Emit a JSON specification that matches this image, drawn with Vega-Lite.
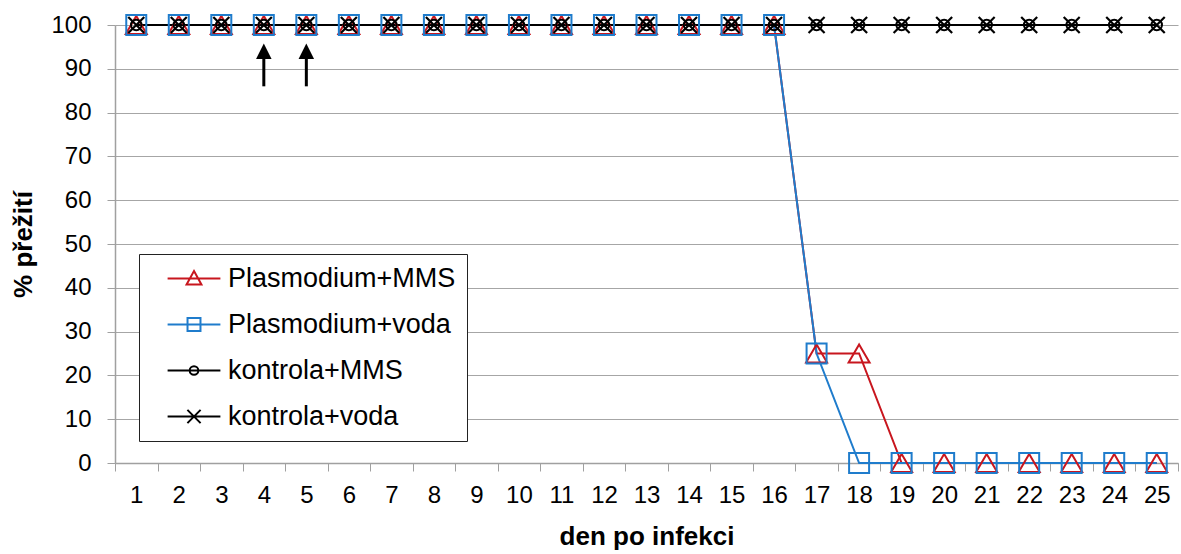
{
  "$schema": "https://vega.github.io/schema/vega-lite/v6.json",
  "width": 1063,
  "height": 438,
  "autosize": {"type": "none"},
  "padding": {"left": 115, "top": 25, "right": 3, "bottom": 91},
  "background": "white",
  "config": {
    "view": {"stroke": null},
    "font": "Liberation Sans",
    "axis": {"labelColor": "black", "titleColor": "black", "labelFont": "Liberation Sans", "titleFont": "Liberation Sans"},
    "legend": {"labelFont": "Liberation Sans"}
  },
  "datasets": {
    "surv": [
      {"day": 1, "series": "Plasmodium+MMS", "value": 100}, {"day": 2, "series": "Plasmodium+MMS", "value": 100}, {"day": 3, "series": "Plasmodium+MMS", "value": 100}, {"day": 4, "series": "Plasmodium+MMS", "value": 100}, {"day": 5, "series": "Plasmodium+MMS", "value": 100},
      {"day": 6, "series": "Plasmodium+MMS", "value": 100}, {"day": 7, "series": "Plasmodium+MMS", "value": 100}, {"day": 8, "series": "Plasmodium+MMS", "value": 100}, {"day": 9, "series": "Plasmodium+MMS", "value": 100}, {"day": 10, "series": "Plasmodium+MMS", "value": 100},
      {"day": 11, "series": "Plasmodium+MMS", "value": 100}, {"day": 12, "series": "Plasmodium+MMS", "value": 100}, {"day": 13, "series": "Plasmodium+MMS", "value": 100}, {"day": 14, "series": "Plasmodium+MMS", "value": 100}, {"day": 15, "series": "Plasmodium+MMS", "value": 100},
      {"day": 16, "series": "Plasmodium+MMS", "value": 100}, {"day": 17, "series": "Plasmodium+MMS", "value": 25}, {"day": 18, "series": "Plasmodium+MMS", "value": 25}, {"day": 19, "series": "Plasmodium+MMS", "value": 0}, {"day": 20, "series": "Plasmodium+MMS", "value": 0},
      {"day": 21, "series": "Plasmodium+MMS", "value": 0}, {"day": 22, "series": "Plasmodium+MMS", "value": 0}, {"day": 23, "series": "Plasmodium+MMS", "value": 0}, {"day": 24, "series": "Plasmodium+MMS", "value": 0}, {"day": 25, "series": "Plasmodium+MMS", "value": 0},
      {"day": 1, "series": "Plasmodium+voda", "value": 100}, {"day": 2, "series": "Plasmodium+voda", "value": 100}, {"day": 3, "series": "Plasmodium+voda", "value": 100}, {"day": 4, "series": "Plasmodium+voda", "value": 100}, {"day": 5, "series": "Plasmodium+voda", "value": 100},
      {"day": 6, "series": "Plasmodium+voda", "value": 100}, {"day": 7, "series": "Plasmodium+voda", "value": 100}, {"day": 8, "series": "Plasmodium+voda", "value": 100}, {"day": 9, "series": "Plasmodium+voda", "value": 100}, {"day": 10, "series": "Plasmodium+voda", "value": 100},
      {"day": 11, "series": "Plasmodium+voda", "value": 100}, {"day": 12, "series": "Plasmodium+voda", "value": 100}, {"day": 13, "series": "Plasmodium+voda", "value": 100}, {"day": 14, "series": "Plasmodium+voda", "value": 100}, {"day": 15, "series": "Plasmodium+voda", "value": 100},
      {"day": 16, "series": "Plasmodium+voda", "value": 100}, {"day": 17, "series": "Plasmodium+voda", "value": 25}, {"day": 18, "series": "Plasmodium+voda", "value": 0}, {"day": 19, "series": "Plasmodium+voda", "value": 0}, {"day": 20, "series": "Plasmodium+voda", "value": 0},
      {"day": 21, "series": "Plasmodium+voda", "value": 0}, {"day": 22, "series": "Plasmodium+voda", "value": 0}, {"day": 23, "series": "Plasmodium+voda", "value": 0}, {"day": 24, "series": "Plasmodium+voda", "value": 0}, {"day": 25, "series": "Plasmodium+voda", "value": 0},
      {"day": 1, "series": "kontrola+MMS", "value": 100}, {"day": 2, "series": "kontrola+MMS", "value": 100}, {"day": 3, "series": "kontrola+MMS", "value": 100}, {"day": 4, "series": "kontrola+MMS", "value": 100}, {"day": 5, "series": "kontrola+MMS", "value": 100},
      {"day": 6, "series": "kontrola+MMS", "value": 100}, {"day": 7, "series": "kontrola+MMS", "value": 100}, {"day": 8, "series": "kontrola+MMS", "value": 100}, {"day": 9, "series": "kontrola+MMS", "value": 100}, {"day": 10, "series": "kontrola+MMS", "value": 100},
      {"day": 11, "series": "kontrola+MMS", "value": 100}, {"day": 12, "series": "kontrola+MMS", "value": 100}, {"day": 13, "series": "kontrola+MMS", "value": 100}, {"day": 14, "series": "kontrola+MMS", "value": 100}, {"day": 15, "series": "kontrola+MMS", "value": 100},
      {"day": 16, "series": "kontrola+MMS", "value": 100}, {"day": 17, "series": "kontrola+MMS", "value": 100}, {"day": 18, "series": "kontrola+MMS", "value": 100}, {"day": 19, "series": "kontrola+MMS", "value": 100}, {"day": 20, "series": "kontrola+MMS", "value": 100},
      {"day": 21, "series": "kontrola+MMS", "value": 100}, {"day": 22, "series": "kontrola+MMS", "value": 100}, {"day": 23, "series": "kontrola+MMS", "value": 100}, {"day": 24, "series": "kontrola+MMS", "value": 100}, {"day": 25, "series": "kontrola+MMS", "value": 100},
      {"day": 1, "series": "kontrola+voda", "value": 100}, {"day": 2, "series": "kontrola+voda", "value": 100}, {"day": 3, "series": "kontrola+voda", "value": 100}, {"day": 4, "series": "kontrola+voda", "value": 100}, {"day": 5, "series": "kontrola+voda", "value": 100},
      {"day": 6, "series": "kontrola+voda", "value": 100}, {"day": 7, "series": "kontrola+voda", "value": 100}, {"day": 8, "series": "kontrola+voda", "value": 100}, {"day": 9, "series": "kontrola+voda", "value": 100}, {"day": 10, "series": "kontrola+voda", "value": 100},
      {"day": 11, "series": "kontrola+voda", "value": 100}, {"day": 12, "series": "kontrola+voda", "value": 100}, {"day": 13, "series": "kontrola+voda", "value": 100}, {"day": 14, "series": "kontrola+voda", "value": 100}, {"day": 15, "series": "kontrola+voda", "value": 100},
      {"day": 16, "series": "kontrola+voda", "value": 100}, {"day": 17, "series": "kontrola+voda", "value": 100}, {"day": 18, "series": "kontrola+voda", "value": 100}, {"day": 19, "series": "kontrola+voda", "value": 100}, {"day": 20, "series": "kontrola+voda", "value": 100},
      {"day": 21, "series": "kontrola+voda", "value": 100}, {"day": 22, "series": "kontrola+voda", "value": 100}, {"day": 23, "series": "kontrola+voda", "value": 100}, {"day": 24, "series": "kontrola+voda", "value": 100}, {"day": 25, "series": "kontrola+voda", "value": 100}
    ],
    "arrows": [
      {"day": 4, "y0": 86, "y1": 92.5, "tip": 94},
      {"day": 5, "y0": 86, "y1": 92.5, "tip": 94}
    ]
  },
  "layer": [
    {
      "data": {"name": "surv"},
      "mark": {"type": "line", "strokeWidth": 2},
      "encoding": {
        "x": {
          "field": "day", "type": "ordinal", "bandPosition": 0.5,
          "scale": {"type": "band", "paddingInner": 0, "paddingOuter": 0, "domain": [1,2,3,4,5,6,7,8,9,10,11,12,13,14,15,16,17,18,19,20,21,22,23,24,25]},
          "axis": {
            "title": "den po infekci", "tickBand": "extent", "labelAngle": 0, "grid": false,
            "domainColor": "#a0a0a0", "tickColor": "#a0a0a0", "tickSize": 8, "domainWidth": 1.5,
            "labelFontSize": 24, "labelPadding": 12,
            "titleFontSize": 26, "titleFontWeight": "bold", "titlePadding": 16
          }
        },
        "y": {
          "field": "value", "type": "quantitative",
          "scale": {"domain": [0, 100], "nice": false},
          "axis": {
            "title": "% přežití", "values": [0,10,20,30,40,50,60,70,80,90,100], "grid": true,
            "gridColor": "#a6a6a6", "gridWidth": 1.2, "domainColor": "#a0a0a0", "domainWidth": 1.5, "tickColor": "#a0a0a0", "tickSize": 8,
            "labelFontSize": 24, "labelPadding": 16,
            "titleFontSize": 26, "titleFontWeight": "bold", "titlePadding": 14
          }
        },
        "color": {
          "field": "series", "type": "nominal",
          "scale": {"domain": ["Plasmodium+MMS", "Plasmodium+voda", "kontrola+MMS", "kontrola+voda"], "range": ["#c8161e", "#1f7ccc", "#000000", "#000000"]},
          "legend": {
            "orient": "none", "legendX": 24, "legendY": 229, "title": null,
            "fillColor": "white", "strokeColor": "#222222", "padding": 11, "cornerRadius": 0,
            "labelFontSize": 27, "labelColor": "black", "labelLimit": 400,
            "symbolSize": 576, "symbolStrokeWidth": 2, "symbolOffset": 30.5, "labelOffset": 20.5, "rowPadding": 18,
            "symbolFillColor": "transparent", "symbolOpacity": 1
          }
        }
      }
    },
    {
      "data": {"name": "surv"},
      "transform": [{"filter": "datum.series === 'Plasmodium+MMS'"}],
      "mark": {"type": "point", "shape": "triangle-up", "size": 440, "filled": false, "strokeWidth": 2, "opacity": 1, "color": "#c8161e"},
      "encoding": {
        "x": {"field": "day", "type": "ordinal", "bandPosition": 0.5},
        "y": {"field": "value", "type": "quantitative"}
      }
    },
    {
      "data": {"name": "surv"},
      "transform": [{"filter": "datum.series === 'Plasmodium+voda'"}],
      "mark": {"type": "point", "shape": "square", "size": 400, "filled": false, "strokeWidth": 2, "opacity": 1, "color": "#1f7ccc"},
      "encoding": {
        "x": {"field": "day", "type": "ordinal", "bandPosition": 0.5},
        "y": {"field": "value", "type": "quantitative"}
      }
    },
    {
      "data": {"name": "surv"},
      "transform": [{"filter": "datum.series === 'kontrola+MMS'"}],
      "mark": {"type": "point", "shape": "circle", "size": 110, "filled": false, "strokeWidth": 2, "opacity": 1, "color": "#000000"},
      "encoding": {
        "x": {"field": "day", "type": "ordinal", "bandPosition": 0.5},
        "y": {"field": "value", "type": "quantitative"}
      }
    },
    {
      "data": {"name": "surv"},
      "transform": [{"filter": "datum.series === 'kontrola+voda'"}],
      "mark": {"type": "point", "shape": "M-1,-1L1,1M-1,1L1,-1", "size": 256, "filled": false, "strokeWidth": 2.2, "opacity": 1, "color": "#000000"},
      "encoding": {
        "x": {"field": "day", "type": "ordinal", "bandPosition": 0.5},
        "y": {"field": "value", "type": "quantitative"}
      }
    },
    {
      "data": {"name": "surv"},
      "mark": {"type": "point", "filled": false, "strokeWidth": 2, "opacity": 0, "size": 1},
      "encoding": {
        "x": {"field": "day", "type": "ordinal", "bandPosition": 0.5},
        "y": {"field": "value", "type": "quantitative"},
        "color": {
          "field": "series", "type": "nominal",
          "legend": {
            "orient": "none", "legendX": 24, "legendY": 229, "title": null,
            "fillColor": "white", "strokeColor": "#222222", "padding": 11, "cornerRadius": 0,
            "labelFontSize": 27, "labelColor": "black", "labelLimit": 400,
            "symbolSize": 576, "symbolStrokeWidth": 2, "symbolOffset": 30.5, "labelOffset": 20.5, "rowPadding": 18,
            "symbolFillColor": "transparent", "symbolOpacity": 1
          }
        },
        "shape": {
          "field": "series", "type": "nominal",
          "scale": {
            "domain": ["Plasmodium+MMS", "Plasmodium+voda", "kontrola+MMS", "kontrola+voda"],
            "range": [
              "M-2.2,0H2.2M0,-0.62L0.62,0.5L-0.62,0.5Z",
              "M-2.2,0H2.2M-0.54,-0.54H0.54V0.54H-0.54Z",
              "M-2.2,0H2.2M0.36,0A0.36,0.36,0,1,1,-0.36,0A0.36,0.36,0,1,1,0.36,0",
              "M-2.2,0H2.2M-0.55,-0.55L0.55,0.55M-0.55,0.55L0.55,-0.55"
            ]
          },
          "legend": {
            "orient": "none", "legendX": 24, "legendY": 229, "title": null,
            "fillColor": "white", "strokeColor": "#222222", "padding": 11, "cornerRadius": 0,
            "labelFontSize": 27, "labelColor": "black", "labelLimit": 400,
            "symbolSize": 576, "symbolStrokeWidth": 2, "symbolOffset": 30.5, "labelOffset": 20.5, "rowPadding": 18,
            "symbolFillColor": "transparent", "symbolOpacity": 1
          }
        }
      }
    },
    {
      "data": {"name": "arrows"},
      "mark": {"type": "rule", "strokeWidth": 3, "color": "black"},
      "encoding": {
        "x": {"field": "day", "type": "ordinal", "bandPosition": 0.5},
        "y": {"field": "y0", "type": "quantitative"},
        "y2": {"field": "y1"}
      }
    },
    {
      "data": {"name": "arrows"},
      "mark": {"type": "point", "shape": "M0,-1L1,1L-1,1Z", "filled": true, "color": "black", "size": 240, "opacity": 1, "strokeWidth": 0},
      "encoding": {
        "x": {"field": "day", "type": "ordinal", "bandPosition": 0.5},
        "y": {"field": "tip", "type": "quantitative"}
      }
    }
  ]
}
